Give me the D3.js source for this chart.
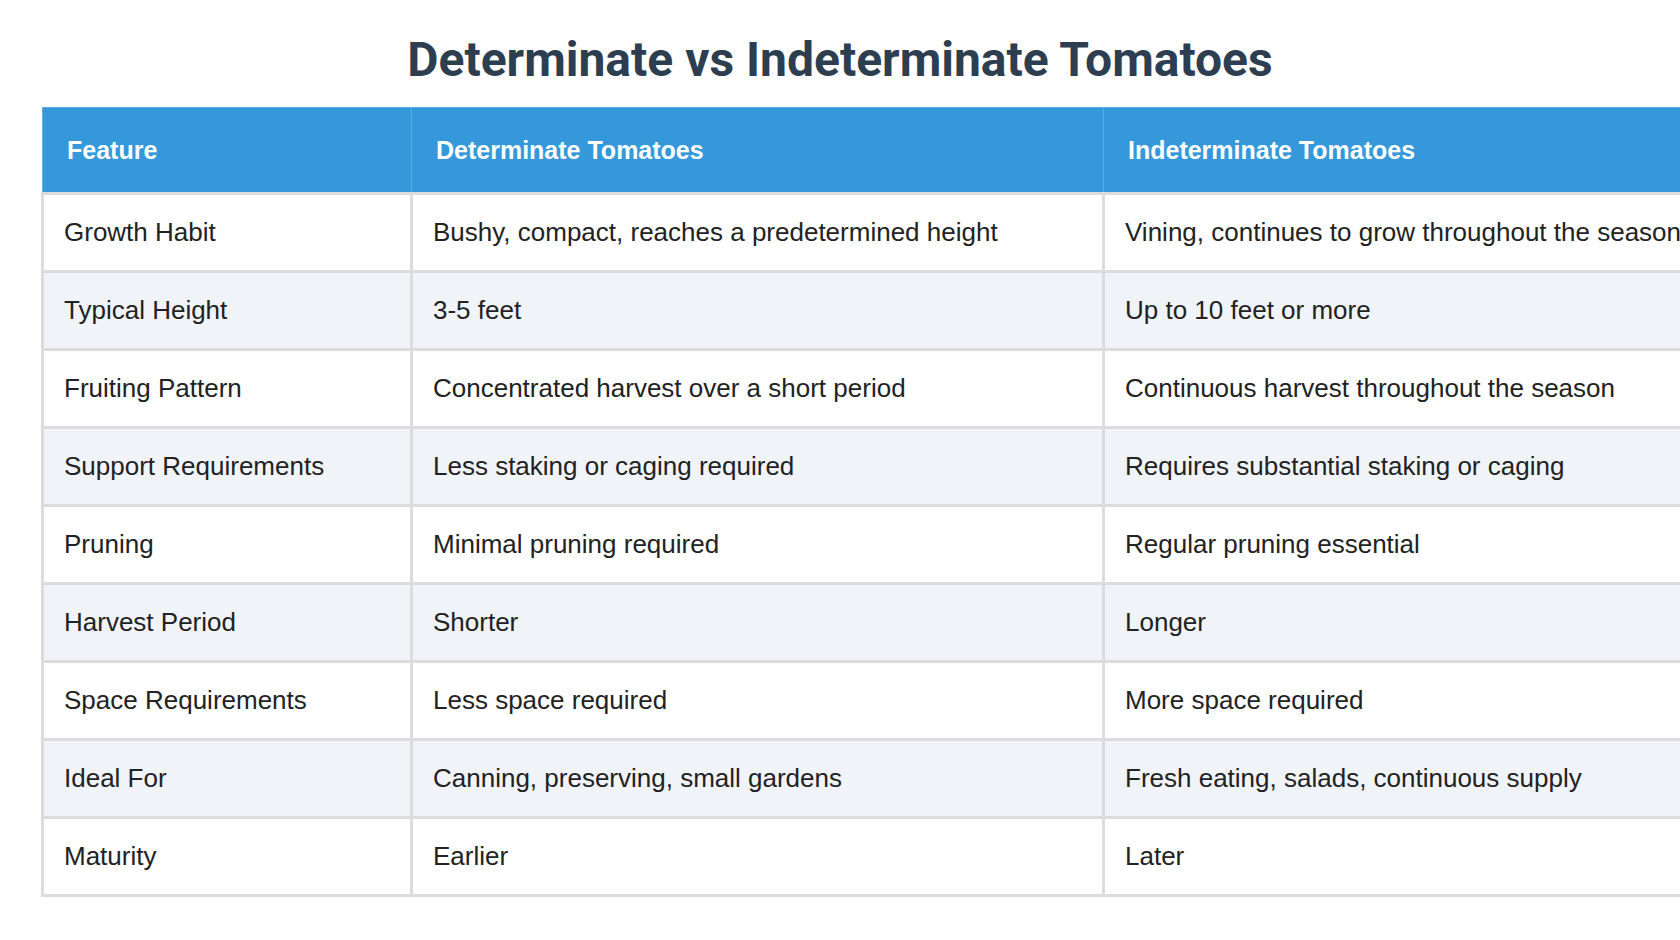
<!DOCTYPE html>
<html><head><meta charset="utf-8">
<script src="https://cdn.jsdelivr.net/npm/d3@7"></script>
<style>
body{margin:0;background:#fff;font-family:"Liberation Sans",Arial,sans-serif;}
h1{margin:0;padding-top:33px;height:107px;box-sizing:border-box;text-align:center;font-family:Roboto,sans-serif;font-weight:700;font-size:48px;color:#2c3e50;line-height:54px;}
table{border-collapse:collapse;margin-left:41px;width:1599px;table-layout:fixed;}
th{background:#3498db;color:#fff;font-weight:700;font-size:25px;text-align:left;height:84px;padding:0 24px;border:1px solid #5aaee6;}
td{font-size:26px;color:#222;height:78px;padding:0 20px;border:3px solid #dcdcdc;box-sizing:border-box;white-space:nowrap;}
tr:nth-child(even) td{background:#f0f4f9;}
</style></head><body>
<script>
const title = "Determinate vs Indeterminate Tomatoes";
const columns = ["Feature", "Determinate Tomatoes", "Indeterminate Tomatoes"];
const features = ["Growth Habit","Typical Height","Fruiting Pattern","Support Requirements","Pruning","Harvest Period","Space Requirements","Ideal For","Maturity"];
const determinate = ["Bushy, compact, reaches a predetermined height","3-5 feet","Concentrated harvest over a short period","Less staking or caging required","Minimal pruning required","Shorter","Less space required","Canning, preserving, small gardens","Earlier"];
const indeterminate = ["Vining, continues to grow throughout the season","Up to 10 feet or more","Continuous harvest throughout the season","Requires substantial staking or caging","Regular pruning essential","Longer","More space required","Fresh eating, salads, continuous supply","Later"];
const widths = [320, 643, 636];

d3.select("body").append("h1").text(title);
const table = d3.select("body").append("table");
table.append("thead").append("tr").selectAll("th").data(columns).enter().append("th")
  .style("width", (d, i) => widths[i] + "px").text(d => d);
const rows = features.map((f, i) => [f, determinate[i], indeterminate[i]]);
table.append("tbody").selectAll("tr").data(rows).enter().append("tr")
  .selectAll("td").data(d => d).enter().append("td").text(d => d);
</script>
</body></html>
